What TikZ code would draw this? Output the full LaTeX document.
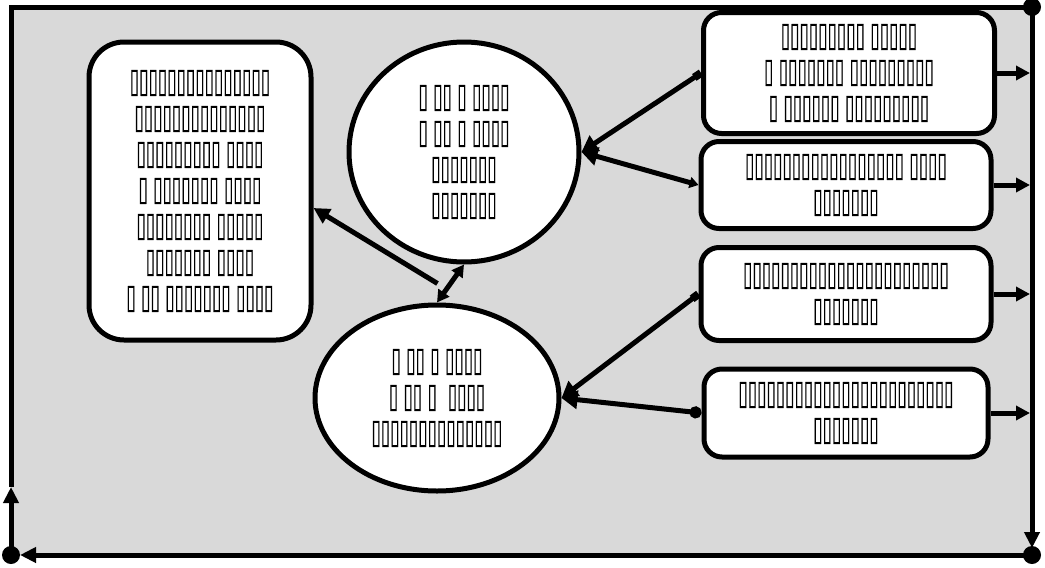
\documentclass[tikz,border=0pt]{standalone}
\usepackage{fontspec}
\usetikzlibrary{positioning, arrows.meta, shapes.geometric, calc}
\newfontfamily\tofu[FakeBold=0.4, FakeStretch=0.5]{DejaVu Sans}
\definecolor{ink}{HTML}{000000}
\definecolor{panel}{HTML}{D9D9D9}

\begin{document}
\begin{tikzpicture}[x=1pt, y=-1pt, line width=5pt,
  txt/.style={align=center, font=\tofu\fontsize{34}{36}\selectfont},
  box/.style={rectangle, rounded corners=18pt, draw=ink, fill=white, inner sep=0pt, txt},
  oval/.style={ellipse, draw=ink, fill=white, inner sep=0pt, txt},
  link/.style={draw=ink, line width=5pt},
  dot/.style={circle, fill=ink, inner sep=0pt, minimum size=18pt}]
  \useasboundingbox (0,0) rectangle (1045,568);

  % frame
  \coordinate (tl) at (11,7);
  \coordinate (tr) at (1032,7);
  \coordinate (br) at (1032,555);
  \coordinate (bl) at (11,555);
  \coordinate (lm) at (11,487);
  \fill[panel] (tl) rectangle (br);
  \draw[link] (lm) -- (tl) -- (tr);
  \draw[link, -{Triangle[length=16pt, width=15pt]}, shorten >=7pt] (tr) -- (br);
  \draw[link, -{Triangle[length=16pt, width=15pt]}, shorten >=9pt] (br) -- (bl);
  \draw[link, -{Triangle[length=16pt, width=15pt]}] (bl) -- (lm);
  \node[dot] (dtr) at (tr) {};
  \node[dot] (dbr) at (br) {};
  \node[dot] (dbl) at (bl) {};

  % nodes
  \node[box, rounded corners=35pt, minimum width=222pt, minimum height=298pt] (lb) at (200,191)
    {▯▯▯▯▯▯▯▯▯▯▯▯▯▯▯\\▯▯▯▯▯▯▯▯▯▯▯▯▯▯\\▯▯▯▯▯▯▯▯▯ ▯▯▯▯\\▯ ▯▯▯▯▯▯▯ ▯▯▯▯\\▯▯▯▯▯▯▯▯ ▯▯▯▯▯\\▯▯▯▯▯▯▯ ▯▯▯▯\\▯ ▯▯ ▯▯▯▯▯▯▯ ▯▯▯▯};
  \node[oval, minimum width=230pt, minimum height=220pt] (c1) at (464,152)
    {▯ ▯▯ ▯ ▯▯▯▯\\▯ ▯▯ ▯ ▯▯▯▯\\▯▯▯▯▯▯▯\\▯▯▯▯▯▯▯};
  \node[oval, minimum width=244pt, minimum height=186pt] (c2) at (437,398)
    {▯ ▯▯ ▯ ▯▯▯▯\\▯ ▯▯ ▯~ ▯▯▯▯\\▯▯▯▯▯▯▯▯▯▯▯▯▯▯};
  \node[box, minimum width=291pt, minimum height=121pt] (b1) at (849,73)
    {▯▯▯▯▯▯▯▯▯ ▯▯▯▯▯\\▯ ▯▯▯▯▯▯▯ ▯▯▯▯▯▯▯▯▯\\▯ ▯▯▯▯▯▯ ▯▯▯▯▯▯▯▯▯};
  \node[box, minimum width=290pt, minimum height=87pt] (b2) at (846,185)
    {▯▯▯▯▯▯▯▯▯▯▯▯▯▯▯▯▯ ▯▯▯▯\\▯▯▯▯▯▯▯};
  \node[box, minimum width=290pt, minimum height=93pt] (b3) at (846,294)
    {▯▯▯▯▯▯▯▯▯▯▯▯▯▯▯▯▯▯▯▯▯▯\\▯▯▯▯▯▯▯};
  \node[box, minimum width=284pt, minimum height=88pt] (b4) at (846,413)
    {▯▯▯▯▯▯▯▯▯▯▯▯▯▯▯▯▯▯▯▯▯▯▯\\▯▯▯▯▯▯▯};

  % links
  \coordinate (mid) at ($(c1.south)!0.5!(c2.north)+(-13,0)$);
  \draw[link, {Square[length=8pt]}-{Triangle[length=16pt, width=18pt]}] (b1.west) -- (c1.east);
  \draw[link, {Triangle[length=9pt, width=11pt]}-{Triangle[length=16pt, width=18pt]}] (b2.west) -- (c1.east);
  \draw[link, {Square[length=8pt]}-{Triangle[length=16pt, width=18pt]}] (b3.west) -- (c2.east);
  \draw[link, {Circle[length=12pt]}-{Triangle[length=16pt, width=18pt]}] (b4.west) -- (c2.east);
  \draw[link, {Triangle[length=12pt, width=13pt]}-{Triangle[length=12pt, width=13pt]}] (c1.south) -- (c2.north);
  \draw[link, -{Triangle[length=16pt, width=16pt]}] (mid) -- ([yshift=-17pt]lb.east);
  \foreach \b in {b1, b2, b3, b4}
    \draw[link, -{Triangle[length=14pt, width=14pt]}, shorten >=2pt] (\b.east) -- (\b.east -| tr);
\end{tikzpicture}
\end{document}
